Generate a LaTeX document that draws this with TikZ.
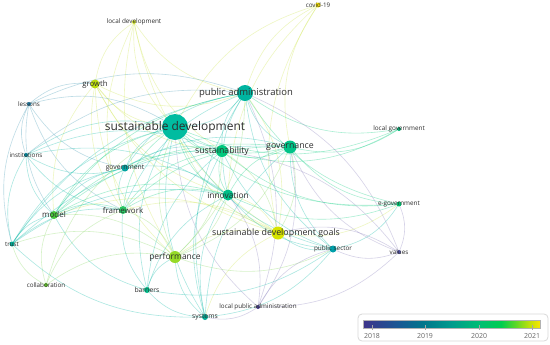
\documentclass[tikz,border=0pt]{standalone}
\usepackage{fontspec}
\setmainfont{Open Sans}
\usetikzlibrary{backgrounds}

% keyword colours (average publication year)
\definecolor{txt}{RGB}{45,45,45}
\definecolor{cSD}{RGB}{0,188,160}
\definecolor{cPA}{RGB}{0,180,160}
\definecolor{cSus}{RGB}{0,200,125}
\definecolor{cGov}{RGB}{0,195,135}
\definecolor{cInn}{RGB}{0,190,135}
\definecolor{cSDG}{RGB}{215,228,0}
\definecolor{cPerf}{RGB}{150,218,40}
\definecolor{cGro}{RGB}{185,220,10}
\definecolor{cLD}{RGB}{205,222,40}
\definecolor{cCov}{RGB}{240,220,0}
\definecolor{cLes}{RGB}{30,120,160}
\definecolor{cInst}{RGB}{0,130,150}
\definecolor{cGovt}{RGB}{0,162,160}
\definecolor{cFw}{RGB}{40,200,100}
\definecolor{cMod}{RGB}{70,200,60}
\definecolor{cTru}{RGB}{0,172,150}
\definecolor{cCol}{RGB}{95,190,40}
\definecolor{cBarr}{RGB}{0,190,140}
\definecolor{cSys}{RGB}{0,172,150}
\definecolor{cLPA}{RGB}{70,60,140}
\definecolor{cPS}{RGB}{0,160,170}
\definecolor{cEgov}{RGB}{0,190,110}
\definecolor{cVal}{RGB}{80,80,160}
\definecolor{cLG}{RGB}{0,180,120}
% edge colours
\definecolor{eY}{RGB}{205,230,70}
\definecolor{eL}{RGB}{130,215,90}
\definecolor{eG}{RGB}{0,205,125}
\definecolor{eT}{RGB}{0,185,165}
\definecolor{eB}{RGB}{60,150,180}
\definecolor{eP}{RGB}{130,120,185}
% colour scale
\definecolor{v0}{RGB}{62,52,138}
\definecolor{v1}{RGB}{25,88,148}
\definecolor{v2}{RGB}{0,118,140}
\definecolor{v3}{RGB}{0,155,140}
\definecolor{v4}{RGB}{0,190,115}
\definecolor{v5}{RGB}{0,205,80}
\definecolor{v6}{RGB}{90,215,40}
\definecolor{v7}{RGB}{190,225,10}
\definecolor{v8}{RGB}{250,230,0}
\pgfdeclarehorizontalshading{viridis}{100bp}{color(0bp)=(v0); color(25bp)=(v0); color(35bp)=(v1); color(42bp)=(v2); color(50bp)=(v3); color(58bp)=(v4); color(64bp)=(v5); color(68bp)=(v6); color(72bp)=(v7); color(75bp)=(v8); color(100bp)=(v8)}

\begin{document}
\begin{tikzpicture}[
    x=1bp, y=-1bp,
    kw/.style={circle, inner sep=0pt, minimum size=#1bp},
    lbl/.style={inner sep=0pt, text=txt, font=\fontsize{#1}{#1}\selectfont},
    edge/.style={line width=0.6bp, draw opacity=0.33},
    legendbox/.style={draw=black!15, line width=0.8bp, rounded corners=4bp, fill=white, minimum width=190bp, minimum height=27bp},
    tick/.style={draw=black!35, line width=0.5bp},
    year/.style={inner sep=0pt, text=black!60, font=\fontsize{7}{7}\selectfont}
]
\useasboundingbox (0,0) rectangle (550,344);

% Keyword circles
\node[kw=26, fill=cSD] (sd) at (175,127) {};
\node[kw=16, fill=cPA] (pa) at (245,93) {};
\node[kw=12, fill=cSus] (sus) at (222,151) {};
\node[kw=13, fill=cGov] (gov) at (290,147) {};
\node[kw=11, fill=cInn] (inn) at (228,195) {};
\node[kw=13, fill=cSDG] (sdg) at (278,233) {};
\node[kw=12, fill=cPerf] (perf) at (175,257) {};
\node[kw=8, fill=cFw] (fw) at (123,210) {};
\node[kw=8, fill=cMod] (mod) at (54,215) {};
\node[kw=9, fill=cGro] (gro) at (95,84) {};
\node[kw=7, fill=cGovt] (govt) at (125,168) {};
\node[kw=4, fill=cLD] (ld) at (134,22) {};
\node[kw=5, fill=cCov] (cov) at (318,5) {};
\node[kw=4, fill=cLes] (les) at (29,104) {};
\node[kw=4, fill=cInst] (inst) at (26,155) {};
\node[kw=5, fill=cTru] (tru) at (12,244) {};
\node[kw=4, fill=cCol] (col) at (46,285) {};
\node[kw=6, fill=cBarr] (barr) at (147,290) {};
\node[kw=6, fill=cSys] (sys) at (205,317) {};
\node[kw=4, fill=cLPA] (lpa) at (258,307) {};
\node[kw=7, fill=cPS] (ps) at (333,249) {};
\node[kw=5, fill=cEgov] (egov) at (399,204) {};
\node[kw=4, fill=cVal] (val) at (399,252) {};
\node[kw=4, fill=cLG] (lg) at (399,129) {};

% Keyword labels
\node[lbl=12] (sdT) at (sd) {sustainable development};
\node[lbl=9.5] (paT) at ([xshift=1bp]pa) {public administration};
\node[lbl=8.8] (susT) at (sus) {sustainability};
\node[lbl=8.8] (govT) at (gov) {governance};
\node[lbl=8.4] (innT) at (inn) {innovation};
\node[lbl=8.9] (sdgT) at ([xshift=-2bp]sdg) {sustainable development goals};
\node[lbl=8.5] (perfT) at (perf) {performance};
\node[lbl=8] (fwT) at (fw) {framework};
\node[lbl=8] (modT) at (mod) {model};
\node[lbl=7.8] (groT) at (gro) {growth};
\node[lbl=6.8] (govtT) at (govt) {government};
\node[lbl=6.4] (ldT) at (ld) {local development};
\node[lbl=6.3] (covT) at (cov) {covid-19};
\node[lbl=6.3] (lesT) at (les) {lessons};
\node[lbl=6.3] (instT) at (inst) {institutions};
\node[lbl=6.3] (truT) at (tru) {trust};
\node[lbl=6.3] (colT) at (col) {collaboration};
\node[lbl=6.8] (barrT) at (barr) {barriers};
\node[lbl=6.8] (sysT) at (sys) {systems};
\node[lbl=6.3] (lpaT) at (lpa) {local public administration};
\node[lbl=6.4] (psT) at (ps) {public sector};
\node[lbl=6.4] (egovT) at (egov) {e-government};
\node[lbl=6.3] (valT) at (val) {values};
\node[lbl=6.4] (lgT) at (lg) {local government};

% Links
\begin{scope}[on background layer]
\fill[white] (0,0) rectangle (550,344);
\foreach \a/\b/\c in {
    ld/sd/eY, ld/gro/eY, ld/perf/eY, ld/sdg/eY, ld/pa/eY, ld/fw/eY, ld/sus/eY,
    cov/pa/eY, cov/sdg/eY, cov/sd/eY, cov/gov/eY, cov/inn/eY,
    gro/sd/eY, gro/perf/eY, gro/sus/eY, gro/inn/eY, gro/sdg/eY, gro/pa/eY, gro/les/eB, gro/mod/eY, gro/fw/eY,
    sdg/perf/eY, sdg/inn/eY, sdg/sus/eL, sdg/gov/eL, sdg/pa/eY, sdg/ps/eT, sdg/fw/eY, sdg/mod/eY, sdg/sys/eY, sdg/egov/eY,
    perf/fw/eL, perf/inn/eL, perf/mod/eL, perf/sus/eL, perf/pa/eL, perf/col/eL, perf/barr/eT, perf/sys/eT, perf/tru/eL, perf/gov/eL, perf/ps/eL,
    sd/pa/eT, sd/sus/eG, sd/gov/eG, sd/inn/eG, sd/fw/eG, sd/mod/eG, sd/les/eB, sd/inst/eT, sd/govt/eT, sd/tru/eT,
    sd/barr/eT, sd/sys/eT, sd/ps/eT, sd/egov/eG, sd/lg/eG, sd/lpa/eP, sd/col/eL, sd/perf/eL, sd/sdg/eL,
    pa/sus/eT, pa/gov/eT, pa/inn/eT, pa/fw/eT, pa/les/eB, pa/govt/eT, pa/ps/eT, pa/egov/eG, pa/lg/eG, pa/sys/eT, pa/tru/eT, pa/inst/eB, pa/mod/eG,
    sus/gov/eG, sus/inn/eG, sus/fw/eG, sus/mod/eG, sus/govt/eT, sus/ps/eT, sus/egov/eG, sus/lg/eG, sus/sys/eT, sus/barr/eT, sus/inst/eT,
    gov/inn/eG, gov/ps/eT, gov/egov/eG, gov/lg/eG, gov/fw/eG, gov/govt/eT, gov/sys/eT, gov/val/eP, gov/mod/eG, gov/tru/eT,
    inn/fw/eG, inn/mod/eG, inn/ps/eT, inn/sys/eT, inn/barr/eT, inn/egov/eG, inn/govt/eT, inn/tru/eT, inn/inst/eT,
    les/inst/eB, les/tru/eB, les/mod/eB, les/govt/eB, les/fw/eB,
    inst/tru/eT, inst/mod/eT, inst/govt/eT, inst/fw/eT,
    govt/fw/eT, govt/mod/eT, govt/tru/eT,
    fw/mod/eG, fw/barr/eT, fw/tru/eT, fw/col/eL,
    mod/tru/eT, mod/col/eL, mod/barr/eT,
    tru/col/eL, tru/sys/eT,
    barr/sys/eT, barr/ps/eT,
    sys/ps/eT, sys/lpa/eP,
    ps/egov/eT, ps/val/eP, ps/lpa/eP,
    lpa/val/eP, lpa/gov/eP, lpa/pa/eP, lpa/inn/eP,
    val/egov/eP, val/pa/eP, val/sdg/eP, val/sus/eP}
  \draw[edge, \c] (\a) to[bend right=22] (\b);
\end{scope}

% Colour scale
\node[legendbox] (legend) at (453,327.5) {};
\node[minimum width=177bp, minimum height=8bp, inner sep=0pt, shading=viridis, draw=black!30, line width=0.4bp] (cbar) at (451.5,324) {};
\foreach \yr/\xx in {2018/372, 2019/425, 2020/479, 2021/532} {
  \coordinate (t\yr) at (\xx,325);
  \draw[tick] (t\yr) -- ++(0,5);
  \node[year] (y\yr) at (\xx,336) {\yr};
}

\end{tikzpicture}
\end{document}
